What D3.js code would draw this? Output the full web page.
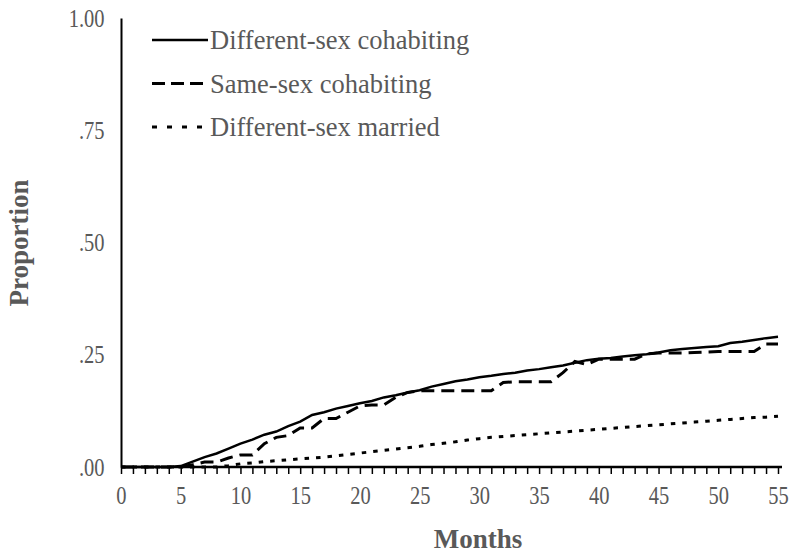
<!DOCTYPE html>
<html>
<head>
<meta charset="utf-8">
<script src="https://cdn.jsdelivr.net/npm/d3@7"></script>
<style>
  body { margin: 0; background: #fff; }
  text { font-family: "Liberation Serif", "DejaVu Serif", serif; fill: #595959; }
</style>
</head>
<body>
<div id="chart"></div>
<script>
  // months 0..55
  var months = d3.range(0, 56);

  var diffCohab = [
    0, 0, 0, 0, 0, 0.002, 0.012, 0.022, 0.030, 0.041,
    0.052, 0.061, 0.072, 0.079, 0.091, 0.101, 0.116, 0.122, 0.130, 0.136,
    0.142, 0.147, 0.155, 0.160, 0.166, 0.171, 0.179, 0.185, 0.191, 0.195,
    0.200, 0.203, 0.207, 0.210, 0.215, 0.218, 0.222, 0.226, 0.232, 0.238,
    0.241, 0.243, 0.246, 0.249, 0.251, 0.255, 0.260, 0.263, 0.265, 0.267,
    0.269, 0.276, 0.279, 0.283, 0.287, 0.290
  ];

  var sameCohab = [
    0, 0, 0, 0, 0, 0, 0.005, 0.011, 0.011, 0.020,
    0.027, 0.027, 0.052, 0.066, 0.070, 0.087, 0.087, 0.108, 0.108, 0.122,
    0.136, 0.138, 0.138, 0.155, 0.166, 0.170, 0.170, 0.170, 0.170, 0.170,
    0.170, 0.170, 0.188, 0.190, 0.190, 0.190, 0.190, 0.210, 0.235, 0.228,
    0.240, 0.240, 0.240, 0.240, 0.252, 0.254, 0.254, 0.254, 0.255, 0.256,
    0.257, 0.257, 0.257, 0.257, 0.274, 0.274
  ];

  var diffMarried = [
    0, 0, 0, 0, 0, 0, 0, 0, 0, 0.003,
    0.007, 0.009, 0.012, 0.014, 0.016, 0.018, 0.020, 0.022, 0.025, 0.028,
    0.031, 0.034, 0.037, 0.040, 0.043, 0.046, 0.050, 0.053, 0.056, 0.060,
    0.063, 0.066, 0.068, 0.070, 0.072, 0.074, 0.076, 0.078, 0.080, 0.082,
    0.084, 0.086, 0.088, 0.090, 0.092, 0.094, 0.096, 0.098, 0.100, 0.102,
    0.104, 0.106, 0.108, 0.110, 0.111, 0.113
  ];

  var seriesNames = ['Different-sex cohabiting', 'Same-sex cohabiting', 'Different-sex married'];
  var yTicks = [0, 0.25, 0.5, 0.75, 1];
  var xTicks = d3.range(0, 56, 5);

  var width = 794, height = 555;
  var margin = { top: 18, right: 12, bottom: 88, left: 121 };

  var svg = d3.select('#chart').append('svg')
    .attr('width', width)
    .attr('height', height);

  var x = d3.scaleLinear().domain([0, 55]).range([margin.left, 778]);
  var y = d3.scaleLinear().domain([0, 1]).range([height - margin.bottom, margin.top]);

  var dashes = ['none', '13,7', '4.5,7'];
  var data = [diffCohab, sameCohab, diffMarried];

  // tick digits are tall and narrow in the original
  var squeeze = 'scale(0.82,1)';

  // y axis
  var yAxis = svg.append('g')
    .attr('transform', 'translate(' + margin.left + ',0)')
    .call(d3.axisLeft(y).tickValues(yTicks).tickSize(0).tickPadding(20)
      .tickFormat(function (d) { return d === 1 ? '1.00' : d3.format('.2f')(d).replace(/^0/, ''); }));
  yAxis.select('.domain').attr('stroke', '#000').attr('stroke-width', 2);
  yAxis.selectAll('text').style('font-size', '25px').attr('fill', '#595959').attr('transform', squeeze);

  // x axis: minor ticks each month
  var xAxis = svg.append('g')
    .attr('transform', 'translate(0,' + y(0) + ')')
    .call(d3.axisBottom(x).tickValues(months).tickSize(7).tickSizeOuter(0).tickFormat(''));
  xAxis.select('.domain').attr('stroke', '#000').attr('stroke-width', 2.5)
    .attr('d', 'M' + x(0) + ',0H' + (x(55) + 4));
  xAxis.selectAll('.tick line').attr('stroke', '#000').attr('stroke-width', 1.5);

  var xLabels = svg.append('g')
    .attr('transform', 'translate(0,' + y(0) + ')')
    .call(d3.axisBottom(x).tickValues(xTicks).tickSize(0).tickPadding(19));
  xLabels.select('.domain').remove();
  xLabels.selectAll('text').style('font-size', '25px').attr('fill', '#595959').attr('transform', squeeze);

  // lines
  var line = d3.line()
    .x(function (d, i) { return x(months[i]); })
    .y(function (d) { return y(d); });

  data.forEach(function (vals, i) {
    svg.append('path')
      .datum(vals)
      .attr('d', line)
      .attr('fill', 'none')
      .attr('stroke', '#000')
      .attr('stroke-width', i === 0 ? 2.5 : 3)
      .attr('stroke-dasharray', dashes[i]);
  });

  // legend
  var legend = svg.append('g').attr('transform', 'translate(152,40)');
  seriesNames.forEach(function (name, i) {
    var row = legend.append('g').attr('transform', 'translate(0,' + (i * 43.5) + ')');
    row.append('line')
      .attr('x1', 0).attr('x2', 56)
      .attr('y1', 0).attr('y2', 0)
      .attr('stroke', '#000')
      .attr('stroke-width', i === 0 ? 2.5 : 3)
      .attr('stroke-dasharray', i === 0 ? 'none' : (i === 1 ? '13,6' : '5,10'));
    row.append('text')
      .attr('x', 58).attr('y', 9)
      .style('font-size', '26.5px')
      .text(name);
  });

  // axis titles
  svg.append('text')
    .attr('x', 478)
    .attr('y', 548)
    .attr('text-anchor', 'middle')
    .style('font-size', '27px')
    .style('font-weight', 'bold')
    .text('Months');

  svg.append('text')
    .attr('transform', 'translate(28,' + 243 + ') rotate(-90)')
    .attr('text-anchor', 'middle')
    .style('font-size', '27px')
    .style('font-weight', 'bold')
    .text('Proportion');
</script>
</body>
</html>
